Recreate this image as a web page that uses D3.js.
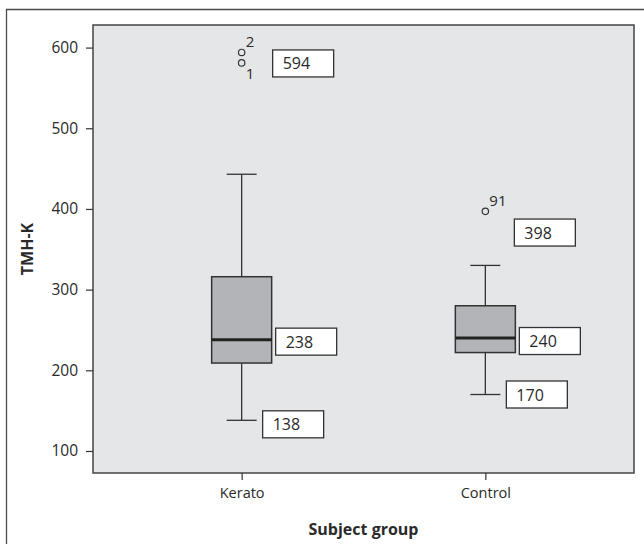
<!DOCTYPE html>
<html>
<head>
	<meta charset="utf-8">
	<script src="https://cdn.jsdelivr.net/npm/d3@7"></script>
	<style>
		body { margin: 0; background: #fff; }
		text { font-family: "Open Sans", sans-serif; fill: #2a2a2a; }
	</style>
</head>
<body>
	<div id="chart"></div>
	<script type="text/javascript">
		"use strict";

		// box plot summary per group
		var groups = ["Kerato", "Control"];
		var whiskerLow = [138, 170];
		var q1 = [209, 222];
		var median = [238, 240];
		var q3 = [316, 280];
		var whiskerHigh = [443, 330];

		// outliers: group, value, case number
		var outlierGroup = ["Kerato", "Kerato", "Control"];
		var outlierValue = [594, 581, 397];
		var outlierCase = ["2", "1", "91"];

		// value callouts
		var calloutGroup = ["Kerato", "Kerato", "Kerato", "Control", "Control", "Control"];
		var calloutValue = [594, 238, 138, 398, 240, 170];

		var yTicks = [100, 200, 300, 400, 500, 600];

		// layout of the labels (px offsets from the marks)
		var outlierLabelDy = [-5, 16, -5];
		var calloutDx = [31, 34, 21, 29, 34, 21];
		var calloutDy = [11, 2, 4, 22, 3, 0];

		var W = 644, H = 544;
		var plot = {left: 93, top: 25, right: 634, bottom: 473};

		var svg = d3.select("#chart").append("svg")
			.attr("width", W)
			.attr("height", H);

		// outer frame (no bottom edge visible)
		svg.append("path")
			.attr("d", "M6.5," + H + "V9.5H" + (W + 2))
			.attr("fill", "none")
			.attr("stroke", "#4a4a4a")
			.attr("stroke-width", 1.3);

		var x = d3.scalePoint()
			.domain(groups)
			.range([plot.left, plot.right])
			.padding(0.61);

		var y = d3.scaleLinear()
			.domain([72.7, 628])
			.range([plot.bottom, plot.top]);

		// plot background
		svg.append("rect")
			.attr("x", plot.left)
			.attr("y", plot.top)
			.attr("width", plot.right - plot.left)
			.attr("height", plot.bottom - plot.top)
			.attr("fill", "#e5e6e8")
			.attr("stroke", "#444")
			.attr("stroke-width", 1.5);

		// axes
		var yAxis = svg.append("g")
			.attr("transform", "translate(" + plot.left + ",0)")
			.call(d3.axisLeft(y).tickValues(yTicks).tickSize(7).tickPadding(8).tickFormat(d3.format("d")));
		yAxis.select(".domain").remove();
		yAxis.selectAll(".tick line").attr("stroke", "#333").attr("stroke-width", 1.2);
		yAxis.selectAll(".tick text")
			.style("font-family", "Open Sans, sans-serif")
			.style("font-size", "15.5px")
			.style("fill", "#2a2a2a");

		var xAxis = svg.append("g")
			.attr("transform", "translate(0," + plot.bottom + ")")
			.call(d3.axisBottom(x).tickSize(7).tickPadding(8));
		xAxis.select(".domain").remove();
		xAxis.selectAll(".tick line").attr("stroke", "#333").attr("stroke-width", 1.2);
		xAxis.selectAll(".tick text")
			.style("font-family", "Open Sans, sans-serif")
			.style("font-size", "14.5px")
			.style("fill", "#2a2a2a");

		// axis titles
		svg.append("text")
			.attr("x", (plot.left + plot.right) / 2)
			.attr("y", 535)
			.attr("text-anchor", "middle")
			.style("font-weight", "bold")
			.style("font-size", "16px")
			.text("Subject group");

		svg.append("text")
			.attr("transform", "translate(33," + ((plot.top + plot.bottom) / 2) + ") rotate(-90)")
			.attr("text-anchor", "middle")
			.style("font-weight", "bold")
			.style("font-size", "16px")
			.text("TMH-K");

		// boxes
		var boxW = 60, capW = 30;
		groups.forEach(function(g, i) {
			var cx = x(g);
			var grp = svg.append("g");
			// whiskers
			grp.append("line")
				.attr("x1", cx).attr("x2", cx)
				.attr("y1", y(whiskerHigh[i])).attr("y2", y(q3[i]))
				.attr("stroke", "#333").attr("stroke-width", 1.3);
			grp.append("line")
				.attr("x1", cx).attr("x2", cx)
				.attr("y1", y(q1[i])).attr("y2", y(whiskerLow[i]))
				.attr("stroke", "#333").attr("stroke-width", 1.3);
			[whiskerHigh[i], whiskerLow[i]].forEach(function(v) {
				grp.append("line")
					.attr("x1", cx - capW / 2).attr("x2", cx + capW / 2)
					.attr("y1", y(v)).attr("y2", y(v))
					.attr("stroke", "#333").attr("stroke-width", 1.3);
			});
			grp.append("rect")
				.attr("x", cx - boxW / 2)
				.attr("y", y(q3[i]))
				.attr("width", boxW)
				.attr("height", y(q1[i]) - y(q3[i]))
				.attr("fill", "#b3b4b7")
				.attr("stroke", "#333")
				.attr("stroke-width", 1.5);
			grp.append("line")
				.attr("x1", cx - boxW / 2).attr("x2", cx + boxW / 2)
				.attr("y1", y(median[i])).attr("y2", y(median[i]))
				.attr("stroke", "#222").attr("stroke-width", 3);
		});

		// outliers
		outlierValue.forEach(function(v, i) {
			var cx = x(outlierGroup[i]);
			svg.append("circle")
				.attr("cx", cx)
				.attr("cy", y(v))
				.attr("r", 3.2)
				.attr("fill", "none")
				.attr("stroke", "#333")
				.attr("stroke-width", 1.2);
			svg.append("text")
				.attr("x", cx + 4)
				.attr("y", y(v) + outlierLabelDy[i])
				.style("font-size", "15px")
				.text(outlierCase[i]);
		});

		// value callouts
		var cbW = 61, cbH = 27;
		calloutValue.forEach(function(v, i) {
			var bx = x(calloutGroup[i]) + calloutDx[i];
			var by = y(v) + calloutDy[i] - cbH / 2;
			svg.append("rect")
				.attr("x", bx)
				.attr("y", by)
				.attr("width", cbW)
				.attr("height", cbH)
				.attr("fill", "#fff")
				.attr("stroke", "#333")
				.attr("stroke-width", 1.3);
			svg.append("text")
				.attr("x", bx + 10)
				.attr("y", by + 19.5)
				.style("font-size", "16px")
				.text(v);
		});
	</script>
</body>
</html>
